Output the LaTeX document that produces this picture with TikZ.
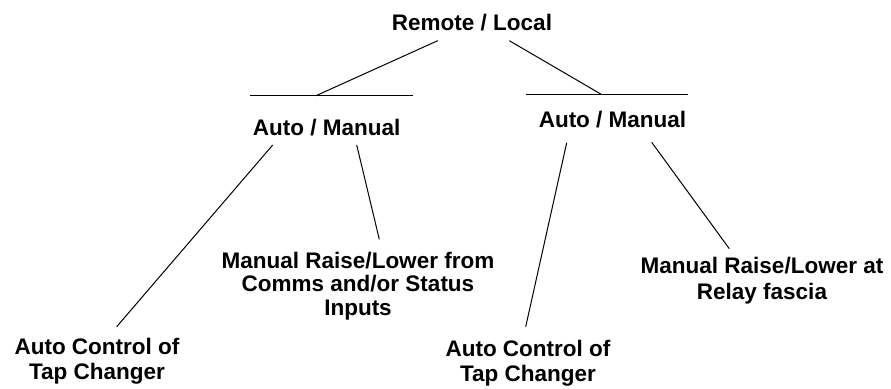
\documentclass[tikz,border=0pt]{standalone}
\usepackage{fontspec}
\setmainfont{Liberation Sans}
\begin{document}
\begin{tikzpicture}[x=1pt,y=-1pt,
  lbl/.style={font=\fontsize{22.5}{24.5}\selectfont\bfseries, align=center, inner sep=0pt, anchor=base},
  conn/.style={line width=1pt, black}]
\useasboundingbox (0,0) rectangle (891,388);
% text nodes (base anchor = baseline of the last line)
\node[lbl] (rl)   at (472,30)    {Remote / Local};
\node[lbl] (am1)  at (326.7,135) {Auto / Manual};
\node[lbl] (am2)  at (612.5,127.3) {Auto / Manual};
\node[lbl, font=\fontsize{22.5}{23.5}\selectfont\bfseries] (mrl1) at (358,315) {Manual Raise/Lower from\\Comms and/or Status\\Inputs};
\node[lbl, font=\fontsize{22.5}{25.5}\selectfont\bfseries] (mrl2) at (762,299) {Manual Raise/Lower at\\Relay fascia};
\node[lbl] (act1) at (97,379)    {Auto Control of\\Tap Changer};
\node[lbl] (act2) at (528,381)   {Auto Control of\\Tap Changer};
% bars
\coordinate (barL-w) at (250,95.7);
\coordinate (barL-e) at (412.7,95.7);
\coordinate (barL-m) at (316,95.7);
\coordinate (barR-w) at (525.7,94);
\coordinate (barR-e) at (688.3,94);
\coordinate (barR-m) at (600.7,94);
% connector end points near the texts
\coordinate (rl-l)   at (437.7,40.7);
\coordinate (rl-r)   at (509.3,40.7);
\coordinate (am1-l)  at (272.7,145);
\coordinate (am1-r)  at (356.7,145);
\coordinate (am2-l)  at (566.7,142.7);
\coordinate (am2-r)  at (651.7,142.3);
\coordinate (act1-t) at (116.7,326.7);
\coordinate (mrl1-t) at (379.3,239.3);
\coordinate (act2-t) at (525.7,326.7);
\coordinate (mrl2-t) at (729.3,248.7);
% drawing
\draw[conn] (barL-w) -- (barL-e);
\draw[conn] (barR-w) -- (barR-e);
\draw[conn] (rl-l) -- (barL-m);
\draw[conn] (rl-r) -- (barR-m);
\draw[conn] (am1-l) -- (act1-t);
\draw[conn] (am1-r) -- (mrl1-t);
\draw[conn] (am2-l) -- (act2-t);
\draw[conn] (am2-r) -- (mrl2-t);
\end{tikzpicture}
\end{document}
